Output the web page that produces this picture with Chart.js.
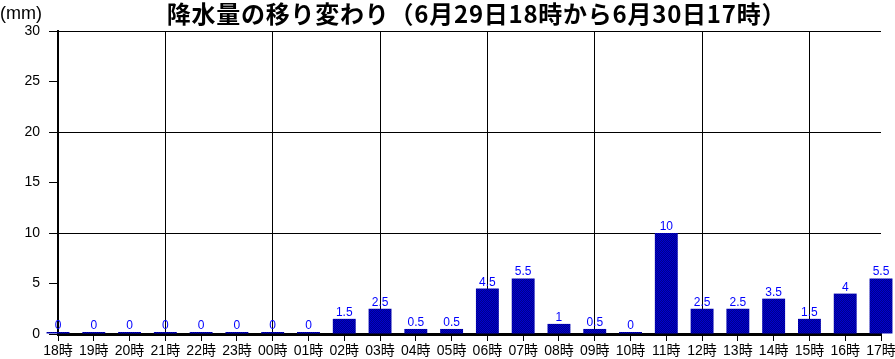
<!DOCTYPE html>
<html lang="ja">
<head>
<meta charset="utf-8">
<script src="https://cdn.jsdelivr.net/npm/chart.js@4.4.1/dist/chart.umd.min.js"></script>
<style>
    html, body { margin: 0; padding: 0; background: #fff; }
    #wrap { width: 895px; height: 359px; position: relative; }
</style>
</head>
<body>
<div id="wrap"><canvas id="rainChart" width="895" height="359"></canvas></div>
<script>
// データ
const hours = ['18時', '19時', '20時', '21時', '22時', '23時', '00時', '01時', '02時', '03時', '04時', '05時',
               '06時', '07時', '08時', '09時', '10時', '11時', '12時', '13時', '14時', '15時', '16時', '17時'];
const rainfall = [0, 0, 0, 0, 0, 0, 0, 0, 1.5, 2.5, 0.5, 0.5,
                  4.5, 5.5, 1, 0.5, 0, 10, 2.5, 2.5, 3.5, 1.5, 4, 5.5];
const yTicks = [0, 5, 10, 15, 20, 25, 30];
const titleText = '降水量の移り変わり（6月29日18時から6月30日17時）';
const unitText = '(mm)';

const FONT = '"Liberation Sans", "Noto Sans CJK JP", sans-serif';

// 棒の網点っぽい塗り
function barPattern() {
    const c = document.createElement('canvas');
    c.width = 2;
    c.height = 2;
    const g = c.getContext('2d');
    g.fillStyle = '#00008a';
    g.fillRect(0, 0, 2, 2);
    g.fillStyle = '#0000d0';
    g.fillRect(0, 0, 1, 1);
    g.fillRect(1, 1, 1, 1);
    return g.createPattern(c, 'repeat');
}

// タイトル・単位・数値ラベル
const textPlugin = {
    id: 'texts',
    afterDraw(chart) {
        const ctx = chart.ctx;
        const area = chart.chartArea;
        ctx.save();
        ctx.fillStyle = '#000';
        ctx.textBaseline = 'middle';
        ctx.textAlign = 'center';
        ctx.font = 'bold 24px "Noto Sans CJK JP", sans-serif';
        ctx.letterSpacing = '0.75px';
        ctx.fillText(titleText, (area.left + area.right) / 2 + 7, 14);
        ctx.letterSpacing = '0px';

        ctx.textAlign = 'left';
        ctx.font = '18px ' + FONT;
        ctx.fillText(unitText, 0, 14);

        // 数値
        const meta = chart.getDatasetMeta(0);
        ctx.fillStyle = '#0000ff';
        ctx.textAlign = 'center';
        ctx.textBaseline = 'alphabetic';
        ctx.font = '12px ' + FONT;
        meta.data.forEach((bar, i) => {
            const top = Math.min(bar.y, bar.base);
            ctx.fillText(String(rainfall[i]), bar.x, top - 3);
        });
        ctx.restore();
    }
};

const ctx = document.getElementById('rainChart').getContext('2d');
new Chart(ctx, {
    type: 'bar',
    data: {
        labels: hours,
        datasets: [{
            data: rainfall,
            backgroundColor: barPattern(),
            borderWidth: 0,
            minBarLength: 2,
            categoryPercentage: 0.8,
            barPercentage: 0.8,
            clip: false
        }]
    },
    options: {
        responsive: false,
        animation: false,
        events: [],
        layout: { padding: { top: 31, right: 14, left: 0, bottom: 0 } },
        plugins: {
            legend: { display: false },
            title: { display: false },
            tooltip: { enabled: false }
        },
        scales: {
            x: {
                offset: false,
                grid: {
                    offset: false,
                    color: c => (c.index % 3 === 0 ? '#000' : 'rgba(0,0,0,0)'),
                    tickColor: '#000',
                    tickLength: 7,
                    lineWidth: 1
                },
                border: { color: '#000', width: 3 },
                ticks: {
                    color: '#000',
                    font: { family: FONT, size: 14 },
                    padding: 2,
                    maxRotation: 0,
                    autoSkip: false
                },
                afterFit: s => {
                    s.height = 25;
                    s.paddingLeft = 0;
                    s.paddingRight = 10;
                }
            },
            y: {
                min: 0,
                max: 30,
                afterBuildTicks: s => { s.ticks = yTicks.map(v => ({ value: v })); },
                grid: {
                    color: c => (c.tick.value % 10 === 0 ? '#000' : 'rgba(0,0,0,0)'),
                    tickColor: '#000',
                    tickLength: 9,
                    lineWidth: 1
                },
                border: { color: '#000', width: 2 },
                ticks: {
                    color: '#000',
                    font: { family: FONT, size: 14 },
                    padding: 9
                },
                afterFit: s => { s.width = 58; }
            }
        }
    },
    plugins: [textPlugin]
});
</script>
</body>
</html>
